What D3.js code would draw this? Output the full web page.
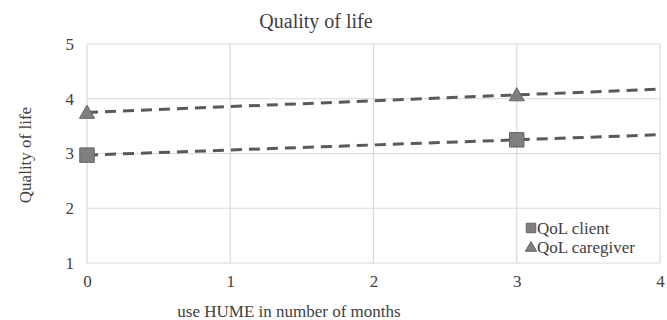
<!DOCTYPE html>
<html><head><meta charset="utf-8">
<script src="https://cdn.jsdelivr.net/npm/d3@7"></script>
<style>body{margin:0;background:#fff}svg{display:block}svg text{font-family:"Liberation Serif","Times New Roman",serif}</style>
</head><body>
<svg id="c" width="667" height="320"></svg>
<script>
const months = [0, 3];
const clientQoL = [2.97, 3.25];
const caregiverQoL = [3.75, 4.07];
const xTicks = [0, 1, 2, 3, 4];
const yTicks = [1, 2, 3, 4, 5];
const seriesNames = ["QoL client", "QoL caregiver"];

const svg = d3.select("#c");
const m = {l: 87, r: 660, t: 44, b: 263};
const x = d3.scaleLinear().domain([0, 4]).range([m.l, m.r]);
const y = d3.scaleLinear().domain([1, 5]).range([m.b, m.t]);
const grid = "#d9d9d9";
const txt = "#404040";

// grid
svg.append("g").selectAll("line").data(yTicks).join("line")
  .attr("x1", m.l).attr("x2", m.r).attr("y1", d => y(d)).attr("y2", d => y(d))
  .attr("stroke", grid).attr("stroke-width", 1.2);
svg.append("g").selectAll("line").data(xTicks).join("line")
  .attr("y1", m.t).attr("y2", m.b).attr("x1", d => x(d)).attr("x2", d => x(d))
  .attr("stroke", grid).attr("stroke-width", 1.2);

// axes labels via d3 axes
const xa = svg.append("g").attr("transform", `translate(0,${m.b})`)
  .call(d3.axisBottom(x).tickValues(xTicks).tickSize(0).tickPadding(12).tickFormat(d3.format("d")));
const ya = svg.append("g").attr("transform", `translate(${m.l},0)`)
  .call(d3.axisLeft(y).tickValues(yTicks).tickSize(0).tickPadding(13).tickFormat(d3.format("d")));
[xa, ya].forEach(a => {
  a.attr("font-family", null).attr("font-size", null);
  a.select(".domain").remove();
  a.selectAll("text").attr("font-size", 17).attr("fill", txt);
});

// trendlines (linear fit)
function fit(xs, ys) {
  const mx = d3.mean(xs), my = d3.mean(ys);
  const s = d3.sum(xs, (v, i) => (v - mx) * (ys[i] - my)) / d3.sum(xs, v => (v - mx) ** 2);
  return v => my + s * (v - mx);
}
const series = [
  {vals: clientQoL, sym: d3.symbolSquare, size: 210, dy: 0},
  {vals: caregiverQoL, sym: d3.symbolTriangle, size: 100, dy: 1.5}
];
series.forEach(s => {
  const f = fit(months, s.vals);
  svg.append("line")
    .attr("x1", x(0)).attr("y1", y(f(0))).attr("x2", x(4)).attr("y2", y(f(4)))
    .attr("stroke", "#595959").attr("stroke-width", 3).attr("stroke-dasharray", "11,7");
});
series.forEach(s => {
  svg.append("g").selectAll("path").data(months).join("path")
    .attr("d", d3.symbol().type(s.sym).size(s.size))
    .attr("transform", (d, i) => `translate(${x(d)},${y(s.vals[i]) + s.dy})`)
    .attr("fill", "#7f7f7f").attr("stroke", "#666").attr("stroke-width", 1);
});

// legend
const lg = svg.append("g");
seriesNames.forEach((n, i) => {
  const cy = 228 + i * 19;
  lg.append("path").attr("d", d3.symbol().type(series[i].sym).size(i ? 55 : 90))
    .attr("transform", `translate(531,${cy + (i ? 1 : 0)})`).attr("fill", "#7f7f7f").attr("stroke", "#666");
  lg.append("text").attr("x", 537).attr("y", cy + 6).attr("font-size", 17).attr("fill", txt).text(n);
});

// titles
svg.append("text").attr("x", 316).attr("y", 28).attr("text-anchor", "middle")
  .attr("font-size", 20).attr("fill", txt).text("Quality of life");
svg.append("text").attr("x", 289).attr("y", 317).attr("text-anchor", "middle")
  .attr("font-size", 17).attr("fill", txt).text("use HUME in number of months");
svg.append("text").attr("transform", "translate(31,155) rotate(-90)").attr("text-anchor", "middle")
  .attr("font-size", 17).attr("fill", txt).text("Quality of life");
</script>
</body></html>
